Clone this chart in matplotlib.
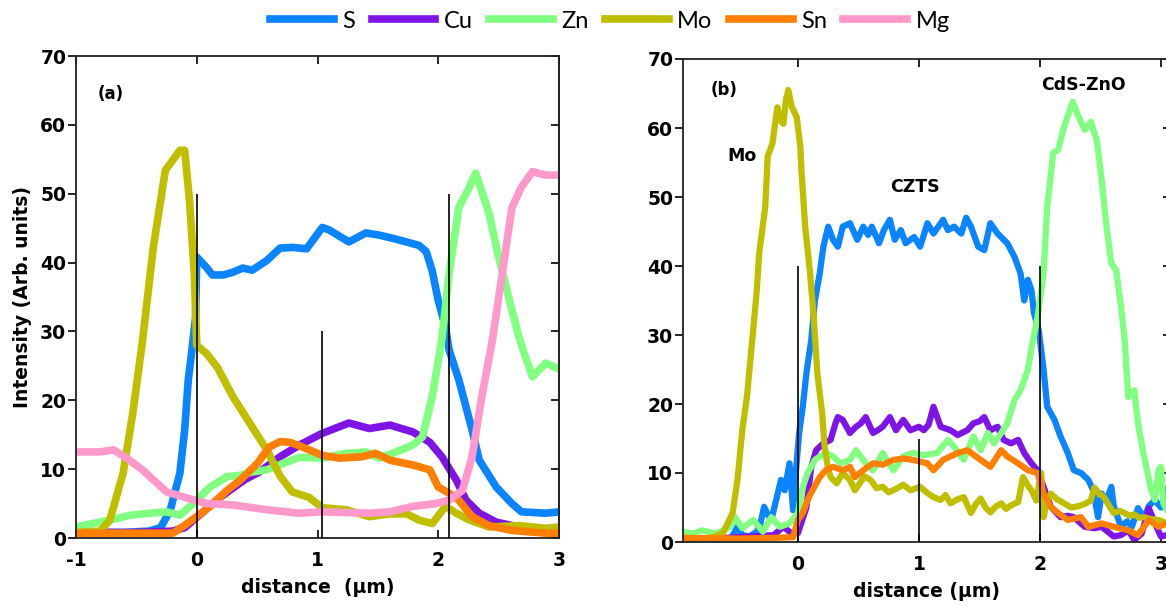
import matplotlib
matplotlib.use("Agg")
import matplotlib.pyplot as plt
from matplotlib.lines import Line2D

plt.rcParams["axes.unicode_minus"] = False

# ---------------- data: panel (a) ----------------
a_S_x = [-1, -0.6, -0.4, -0.3, -0.22, -0.14, -0.1, -0.07, -0.04, -0.01, 0.0, 0.08, 0.13, 0.22, 0.3,
         0.38, 0.46, 0.58, 0.69, 0.8, 0.91, 1.04, 1.1, 1.26, 1.4, 1.51, 1.65, 1.84, 1.9, 1.95, 2.0,
         2.06, 2.09, 2.17, 2.28, 2.34, 2.48, 2.61, 2.69, 2.89, 3.0]
a_S_y = [0.8, 0.8, 1.0, 1.5, 4.0, 9.4, 15.7, 23, 27.3, 32, 40.8, 39.3, 38.2, 38.2, 38.6,
         39.2, 38.9, 40.3, 42.1, 42.2, 42, 45.1, 44.7, 43, 44.3, 44, 43.4, 42.5, 41.6, 38.8, 34.5,
         30.6, 27.3, 23, 15.7, 11.3, 7.4, 5.0, 3.8, 3.6, 3.8]

a_Cu_x = [-1, -0.5, -0.2, -0.1, 0, 0.2, 0.4, 0.52, 0.69, 0.85, 1.04, 1.26, 1.43, 1.6, 1.79, 1.93,
          2.03, 2.15, 2.23, 2.34, 2.48, 2.67, 2.83, 3.0]
a_Cu_y = [0.8, 0.8, 1.0, 1.5, 3.0, 6.0, 8.5, 9.6, 11.8, 13.5, 15.2, 16.7, 15.9, 16.4, 15.4, 13.9,
          11.8, 8.4, 5.5, 3.6, 2.3, 1.6, 1.4, 0.9]

a_Zn_x = [-1, -0.72, -0.55, -0.39, -0.25, -0.14, -0.03, 0.11, 0.25, 0.36, 0.46, 0.58, 0.74, 0.85,
          1.04, 1.24, 1.4, 1.51, 1.65, 1.79, 1.87, 1.95, 2.03, 2.09, 2.17, 2.26, 2.31, 2.42, 2.5,
          2.59, 2.67, 2.78, 2.89, 2.98]
a_Zn_y = [1.6, 2.6, 3.3, 3.6, 3.8, 3.3, 5.0, 7.4, 8.9, 9.1, 9.6, 9.9, 11.0, 11.7,
          11.6, 12.3, 12.5, 11.6, 12.5, 13.5, 14.7, 20.5, 28.9, 38.4, 48, 51, 53, 47.2, 40.8,
          34.5, 29, 23.4, 25.4, 24.7]

a_Mo_x = [-1, -0.8, -0.72, -0.61, -0.53, -0.45, -0.36, -0.26, -0.14, -0.1, -0.06, -0.02, 0.0, 0.08,
          0.17, 0.3, 0.46, 0.58, 0.69, 0.79, 0.93, 1.04, 1.24, 1.43, 1.6, 1.74, 1.84, 1.95, 2.06,
          2.15, 2.26, 2.42, 2.67, 2.89, 3.0]
a_Mo_y = [0.8, 1.0, 2.6, 9.4, 18.1, 28.5, 42.2, 53.4, 56.3, 56.3, 49, 38.4, 28, 26.8,
          24.8, 20.5, 16.1, 12.8, 9.0, 6.7, 5.9, 4.4, 4.1, 3.1, 3.5, 3.5, 2.6, 2.1, 4.6,
          3.6, 2.6, 1.6, 1.8, 1.4, 1.6]

a_Sn_x = [-1, -0.2, -0.17, -0.08, 0, 0.11, 0.25, 0.36, 0.5, 0.6, 0.69, 0.77, 0.85, 1.04, 1.18,
          1.37, 1.48, 1.6, 1.79, 1.93, 2.0, 2.09, 2.17, 2.28, 2.42, 2.61, 2.89, 3.0]
a_Sn_y = [0.7, 0.7, 1.0, 2.1, 3.1, 4.6, 6.9, 8.4, 10.8, 13.2, 14.0, 13.9, 13.4, 12.0, 11.6,
          11.8, 12.3, 11.3, 10.6, 9.9, 7.4, 6.5, 5.5, 3.1, 1.8, 1.1, 0.7, 0.7]

a_Mg_x = [-1, -0.8, -0.69, -0.58, -0.45, -0.25, -0.08, 0.08, 0.3, 0.58, 0.85, 1.04, 1.43, 1.6,
          1.79, 1.98, 2.09, 2.2, 2.28, 2.36, 2.45, 2.53, 2.61, 2.69, 2.78, 2.89, 3.0]
a_Mg_y = [12.5, 12.5, 12.8, 11.6, 9.9, 6.7, 5.8, 5.0, 4.8, 4.1, 3.6, 3.8, 3.6, 3.8,
          4.6, 5.0, 5.5, 6.9, 11.8, 20.5, 28.9, 38.4, 48, 51, 53.2, 52.7, 52.7]

a_vlines_x = [0.0, 1.04, 2.09]
a_vlines_top = [50, 30, 50]

# ---------------- data: panel (b) ----------------
b_S_x = [-0.95, -0.7, -0.55, -0.5, -0.46, -0.4, -0.34, -0.31, -0.28, -0.25, -0.22, -0.18, -0.14,
         -0.11, -0.07, -0.04, -0.02, 0.01, 0.04, 0.07, 0.11, 0.14, 0.18, 0.21, 0.25, 0.29, 0.33,
         0.37, 0.43, 0.49, 0.54, 0.58, 0.61, 0.67, 0.71, 0.76, 0.8, 0.85, 0.89, 0.96, 1.01, 1.07,
         1.12, 1.2, 1.24, 1.29, 1.35, 1.39, 1.43, 1.49, 1.54, 1.59, 1.65, 1.73, 1.79, 1.84, 1.87,
         1.9, 1.93, 1.95, 1.99, 2.03, 2.06, 2.12, 2.17, 2.23, 2.28, 2.34, 2.4, 2.44, 2.48, 2.51,
         2.55, 2.59, 2.61, 2.67, 2.72, 2.76, 2.81, 2.86, 2.9, 2.95, 3.0, 3.05]
b_S_y = [0.3, 0.4, 0.6, 2.2, 1.0, 0.8, 1.5, 2.7, 5.1, 4.0, 3.2, 6.1, 9.0,
         7.5, 11.4, 4.6, 9.6, 15.8, 19.6, 24.5, 29.3, 35.0, 38.9, 42.8, 45.7, 43.8, 42.8,
         45.7, 46.2, 43.8, 45.7, 44.5, 45.7, 43.3, 45.2, 46.7, 43.8, 45.2, 43.3, 44.2, 42.8, 46.2,
         44.7, 46.7, 45.2, 45.7, 44.7, 47.0, 45.7, 42.8, 42.3, 46.2, 44.7, 43.3, 41.3, 38.9, 35.0,
         38.0, 36.5, 33.2, 30.7, 25.0, 19.6, 17.7, 15.3, 12.9, 10.4, 10.0, 9.0, 7.5, 3.6, 7.0,
         6.0, 8.0, 5.2, 2.2, 3.0, 2.2, 4.9, 3.5, 5.2, 6.1, 5.0, 7.5]

b_Cu_x = [-0.95, -0.6, -0.4, -0.2, -0.12, -0.05, 0.0, 0.07, 0.11, 0.15, 0.21, 0.27, 0.31, 0.33,
          0.37, 0.43, 0.48, 0.52, 0.56, 0.62, 0.66, 0.7, 0.76, 0.81, 0.87, 0.93, 1.0, 1.04, 1.08,
          1.12, 1.18, 1.26, 1.32, 1.4, 1.45, 1.5, 1.54, 1.59, 1.65, 1.7, 1.76, 1.82, 1.87, 1.93,
          1.98, 2.03, 2.09, 2.17, 2.23, 2.28, 2.37, 2.45, 2.51, 2.56, 2.61, 2.67, 2.73, 2.78, 2.84,
          2.9, 2.95, 3.0, 3.05]
b_Cu_y = [0.5, 0.6, 0.8, 1.0, 2.2, 1.2, 1.3, 5.0, 10.9, 13.3, 14.3, 14.8, 17.2, 18.1,
          17.7, 15.8, 16.7, 17.2, 18.1, 15.8, 16.2, 16.7, 18.1, 16.2, 17.7, 16.2, 16.7, 16.2, 17.0,
          19.6, 16.7, 16.2, 15.5, 16.2, 17.2, 17.5, 18.1, 16.2, 16.7, 14.8, 14.3, 14.8, 12.9, 11.4,
          10.4, 8.0, 5.1, 3.6, 3.8, 3.6, 2.2, 2.0, 2.2, 1.5, 0.8, 1.0, 1.7, 0.3, 1.2,
          4.9, 2.7, 0.8, 1.0]

b_Zn_x = [-0.95, -0.87, -0.79, -0.68, -0.56, -0.52, -0.46, -0.37, -0.29, -0.22, -0.15, -0.07, 0.0,
          0.04, 0.08, 0.14, 0.18, 0.23, 0.29, 0.35, 0.43, 0.48, 0.56, 0.62, 0.7, 0.79, 0.87, 0.95,
          1.04, 1.15, 1.24, 1.29, 1.37, 1.45, 1.51, 1.57, 1.62, 1.68, 1.73, 1.79, 1.84, 1.9, 1.94,
          1.98, 2.03, 2.06, 2.11, 2.15, 2.2, 2.27, 2.32, 2.37, 2.42, 2.47, 2.51, 2.55, 2.59, 2.63,
          2.67, 2.7, 2.73, 2.78, 2.81, 2.86, 2.92, 2.95, 2.98, 3.0, 3.02, 3.05]
b_Zn_y = [1.5, 1.2, 1.7, 1.2, 2.2, 3.6, 2.0, 3.2, 1.5, 3.6, 2.2, 2.7, 4.2,
          8.0, 10.0, 11.9, 12.4, 12.9, 12.4, 11.4, 11.9, 13.3, 11.4, 10.4, 12.9, 10.4, 12.4, 12.9,
          12.6, 12.9, 14.8, 13.8, 11.9, 15.3, 13.3, 15.8, 14.3, 15.8, 17.2, 20.6, 22.0, 25.0, 29.0,
          32.6, 38.9, 48.6, 56.4, 56.8, 60.2, 63.8, 61.6, 59.7, 60.9, 58.2, 52.5, 45.7, 40.4, 39.4,
          34.1, 29.3, 21.0, 22.0, 17.2, 12.4, 7.5, 6.1, 10.4, 10.9, 5.6, 4.6]

b_Mo_x = [-0.95, -0.8, -0.7, -0.62, -0.54, -0.5, -0.46, -0.42, -0.37, -0.34, -0.32, -0.27, -0.25,
          -0.21, -0.19, -0.17, -0.14, -0.12, -0.1, -0.08, -0.05, -0.01, 0.02, 0.03, 0.06, 0.1, 0.13,
          0.16, 0.2, 0.22, 0.25, 0.27, 0.32, 0.37, 0.43, 0.47, 0.51, 0.55, 0.6, 0.65, 0.7, 0.75,
          0.81, 0.87, 0.93, 1.01, 1.07, 1.12, 1.18, 1.22, 1.26, 1.32, 1.37, 1.43, 1.47, 1.51, 1.55,
          1.59, 1.64, 1.68, 1.72, 1.76, 1.82, 1.86, 1.9, 1.93, 1.97, 2.01, 2.03, 2.06, 2.09, 2.14,
          2.2, 2.26, 2.32, 2.37, 2.42, 2.45, 2.49, 2.53, 2.57, 2.61, 2.66, 2.7, 2.74, 2.78, 2.82,
          2.86, 2.92, 2.98, 3.05]
b_Mo_y = [0.6, 0.5, 0.7, 1.3, 4.2, 9.0, 16.2, 21.3, 30.7, 36.5, 41.9, 48.6, 55.9,
          57.8, 60.5, 63.0, 61.0, 60.6, 64.0, 65.5, 63.0, 61.6, 57.3, 53.5, 45.7, 39.0, 32.6,
          24.5, 18.7, 13.8, 10.5, 9.4, 8.5, 10.0, 9.0, 7.5, 8.5, 9.5, 9.0, 7.8, 8.0, 7.2,
          7.7, 8.3, 7.5, 8.0, 7.1, 6.5, 6.1, 6.8, 5.6, 6.2, 6.5, 4.2, 5.5, 6.3, 5.0,
          4.3, 5.2, 5.6, 4.8, 5.3, 5.8, 9.4, 8.2, 7.5, 6.0, 10.0, 3.6, 6.0, 7.0, 6.2,
          5.6, 5.0, 5.2, 5.5, 6.0, 7.9, 7.0, 6.5, 5.3, 4.2, 4.5, 4.2, 3.8, 4.0, 3.5,
          3.6, 3.3, 3.2, 2.7]

b_Sn_x = [-0.95, -0.5, -0.2, -0.04, 0.0, 0.04, 0.08, 0.12, 0.18, 0.23, 0.29, 0.37, 0.43, 0.47,
          0.54, 0.62, 0.7, 0.79, 0.87, 0.95, 1.07, 1.12, 1.2, 1.32, 1.4, 1.51, 1.59, 1.68, 1.73,
          1.82, 1.9, 1.98, 2.03, 2.09, 2.15, 2.23, 2.34, 2.4, 2.51, 2.61, 2.73, 2.81, 2.9, 2.98, 3.05]
b_Sn_y = [0.6, 0.5, 0.6, 0.7, 3.2, 4.2, 6.1, 7.5, 9.4, 10.4, 10.9, 10.4, 10.9, 9.4,
          10.4, 11.4, 11.2, 11.9, 12.1, 11.9, 11.4, 10.4, 11.9, 12.9, 13.3, 11.9, 10.9, 13.3, 12.4,
          11.4, 10.4, 10.0, 7.0, 5.1, 4.2, 3.2, 3.6, 2.2, 2.7, 2.2, 1.7, 1.0, 3.2, 2.2, 2.7]

b_vlines_x = [0.0, 1.0, 2.0]
b_vlines_top = [40, 15, 40]

series_names = ["S", "Cu", "Zn", "Mo", "Sn", "Mg"]
colors = {"S": "#0a84ff", "Cu": "#7f14e6", "Zn": "#80ff80",
          "Mo": "#bfbf00", "Sn": "#ff8000", "Mg": "#ff99cc"}

y_ticks = [0, 10, 20, 30, 40, 50, 60, 70]

# ---------------- figure ----------------
W, H = 1166, 606
fig = plt.figure(figsize=(W / 100, H / 100), dpi=100)

def px_axes(left, top, right, bottom):
    return [left / W, 1 - bottom / H, (right - left) / W, (bottom - top) / H]

axA = fig.add_axes(px_axes(76, 56, 559, 538))
axB = fig.add_axes(px_axes(683, 59, 683 + 4.03 * 121, 542))

def style(ax, xlim, xticks):
    ax.set_xlim(*xlim)
    ax.set_ylim(0, 70)
    ax.set_xticks(xticks)
    ax.set_yticks(y_ticks)
    ax.tick_params(axis="x", direction="in", length=6, width=1.2, top=True, pad=9,
                   labelsize=13.5)
    ax.tick_params(axis="y", direction="out", length=6, width=1.2, right=False, pad=1,
                   labelsize=13.5)
    for lab in ax.get_xticklabels() + ax.get_yticklabels():
        lab.set_fontweight("bold")
    sec = ax.secondary_yaxis("right")
    sec.set_yticks(y_ticks)
    sec.tick_params(direction="in", length=6, width=1.2, labelright=False)
    for sp in list(ax.spines.values()) + [sec.spines["right"]]:
        sp.set_linewidth(1.3)
        sp.set_color("#222222")

lw_a = 5.5
axA.plot(a_S_x, a_S_y, color=colors["S"], lw=lw_a, label="S")
axA.plot(a_Cu_x, a_Cu_y, color=colors["Cu"], lw=lw_a, label="Cu")
axA.plot(a_Zn_x, a_Zn_y, color=colors["Zn"], lw=lw_a, label="Zn")
axA.plot(a_Mo_x, a_Mo_y, color=colors["Mo"], lw=lw_a, label="Mo")
axA.plot(a_Sn_x, a_Sn_y, color=colors["Sn"], lw=lw_a, label="Sn")
axA.plot(a_Mg_x, a_Mg_y, color=colors["Mg"], lw=lw_a, label="Mg")
axA.vlines(a_vlines_x, 0, a_vlines_top, colors="black", lw=1.2, zorder=10)
style(axA, (-1, 3), [-1, 0, 1, 2, 3])
axA.set_xlabel("distance  (\u00b5m)", fontsize=13.5, fontweight="bold", labelpad=6)
axA.set_ylabel("Intensity (Arb. units)", fontsize=13.5, fontweight="bold", labelpad=6)
axA.text(-0.82, 64.5, "(a)", fontsize=12, fontweight="bold", ha="left", va="center")

lw_b = 4.5
axB.plot(b_S_x, b_S_y, color=colors["S"], lw=lw_b)
axB.plot(b_Cu_x, b_Cu_y, color=colors["Cu"], lw=lw_b)
axB.plot(b_Zn_x, b_Zn_y, color=colors["Zn"], lw=lw_b)
axB.plot(b_Mo_x, b_Mo_y, color=colors["Mo"], lw=lw_b)
axB.plot(b_Sn_x, b_Sn_y, color=colors["Sn"], lw=lw_b)
axB.vlines(b_vlines_x, 0, b_vlines_top, colors="black", lw=1.2, zorder=10)
style(axB, (-0.95, 3.08), [0, 1, 2, 3])
axB.set_xlabel("distance (\u00b5m)", fontsize=13.5, fontweight="bold", labelpad=6)
axB.text(-0.72, 65.5, "(b)", fontsize=12, fontweight="bold", ha="left", va="center")
axB.text(-0.46, 56.0, "Mo", fontsize=12.5, fontweight="bold", ha="center", va="center")
axB.text(0.97, 51.5, "CZTS", fontsize=12.5, fontweight="bold", ha="center", va="center")
axB.text(2.36, 66.2, "CdS-ZnO", fontsize=12.5, fontweight="bold", ha="center", va="center")

handles = [Line2D([], [], color=colors[n], lw=5.5) for n in series_names]
fig.legend(handles, series_names, loc="center", bbox_to_anchor=(610 / W, 1 - 21 / H),
           ncol=6, frameon=False, prop=dict(family="Lato", size=17),
           handlelength=2.7, handletextpad=0.35, columnspacing=0.7)

fig.savefig("out.png", dpi=100)
